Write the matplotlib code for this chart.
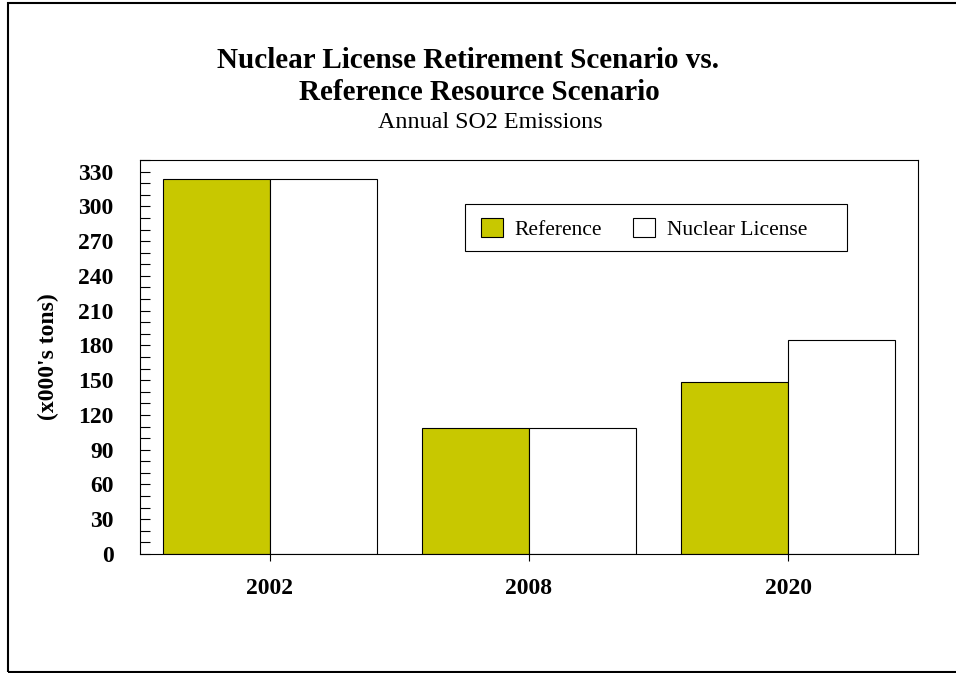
import numpy as np
import matplotlib
matplotlib.use('Agg')
import matplotlib.pyplot as plt
from matplotlib.patches import Rectangle
from matplotlib.ticker import MultipleLocator

# Datos
years = ['2002', '2008', '2020']
reference = [324, 109, 148]
nuclear_license = [324, 109, 185]
series_names = ['Reference', 'Nuclear License']
y_ticks = list(range(0, 331, 30))

plt.rcParams['font.family'] = ['Liberation Serif', 'DejaVu Serif']

fig = plt.figure(figsize=(9.56, 6.73), dpi=100)
fig.patch.set_facecolor('white')

# borde de la figura (sin lado derecho visible)
fig.add_artist(Rectangle((8 / 956, 1.5 / 673), 1.2, 1 - 4.5 / 673,
                         transform=fig.transFigure, fill=False,
                         edgecolor='black', linewidth=1.5, clip_on=False))

ax = fig.add_axes([140 / 956, 1 - 554 / 673, 778 / 956, 394 / 673])

x = np.arange(len(years))
w = 0.412
ax.bar(x - w / 2, reference, w, color='#c8c800', edgecolor='black',
       linewidth=0.8, label=series_names[0])
ax.bar(x + w / 2, nuclear_license, w, color='white', edgecolor='black',
       linewidth=0.8, label=series_names[1])

ax.set_xlim(-0.5, 2.5)
ax.set_ylim(0, 340)
ax.set_yticks(y_ticks)
ax.yaxis.set_minor_locator(MultipleLocator(10))
ax.set_xticks(x)
ax.set_xticklabels(years)

for s in ['left', 'right', 'top', 'bottom']:
    ax.spines[s].set_linewidth(0.8)

ax.tick_params(axis='y', which='both', direction='in', length=7, width=0.8,
               labelsize=17, pad=19)
ax.tick_params(axis='x', direction='out', length=5, width=0.8,
               labelsize=17, pad=12.5)
for lbl in ax.get_xticklabels() + ax.get_yticklabels():
    lbl.set_fontweight('bold')

ax.set_ylabel("(x000's tons)", fontsize=17, fontweight='bold')
ax.yaxis.set_label_coords(-(140 - 59) / 778, 0.5)

# leyenda: marco dibujado aparte para copiar el relleno derecho
leg_box = (0.418, 0.769, 0.491, 0.119)
ax.add_patch(Rectangle(leg_box[:2], leg_box[2], leg_box[3], transform=ax.transAxes,
                       fill=True, facecolor='white', edgecolor='black',
                       linewidth=0.8, zorder=4))
leg = ax.legend(loc='center left',
                bbox_to_anchor=(leg_box[0] + 16 / 778, leg_box[1] + leg_box[3] / 2 - 1 / 394),
                ncol=2, fontsize=15.5, frameon=False, borderpad=0,
                handlelength=1.0, handleheight=1.0, columnspacing=1.45,
                handletextpad=0.55, borderaxespad=0)
leg.set_zorder(5)

fig.text(468 / 956, 1 - 60 / 673, 'Nuclear License Retirement Scenario vs.',
         ha='center', va='center', fontsize=21, fontweight='bold')
fig.text(479.5 / 956, 1 - 92 / 673, 'Reference Resource Scenario',
         ha='center', va='center', fontsize=21, fontweight='bold')
fig.text(490 / 956, 1 - 123 / 673, 'Annual SO2 Emissions',
         ha='center', va='center', fontsize=17.3)

fig.savefig('out.png', dpi=100)
